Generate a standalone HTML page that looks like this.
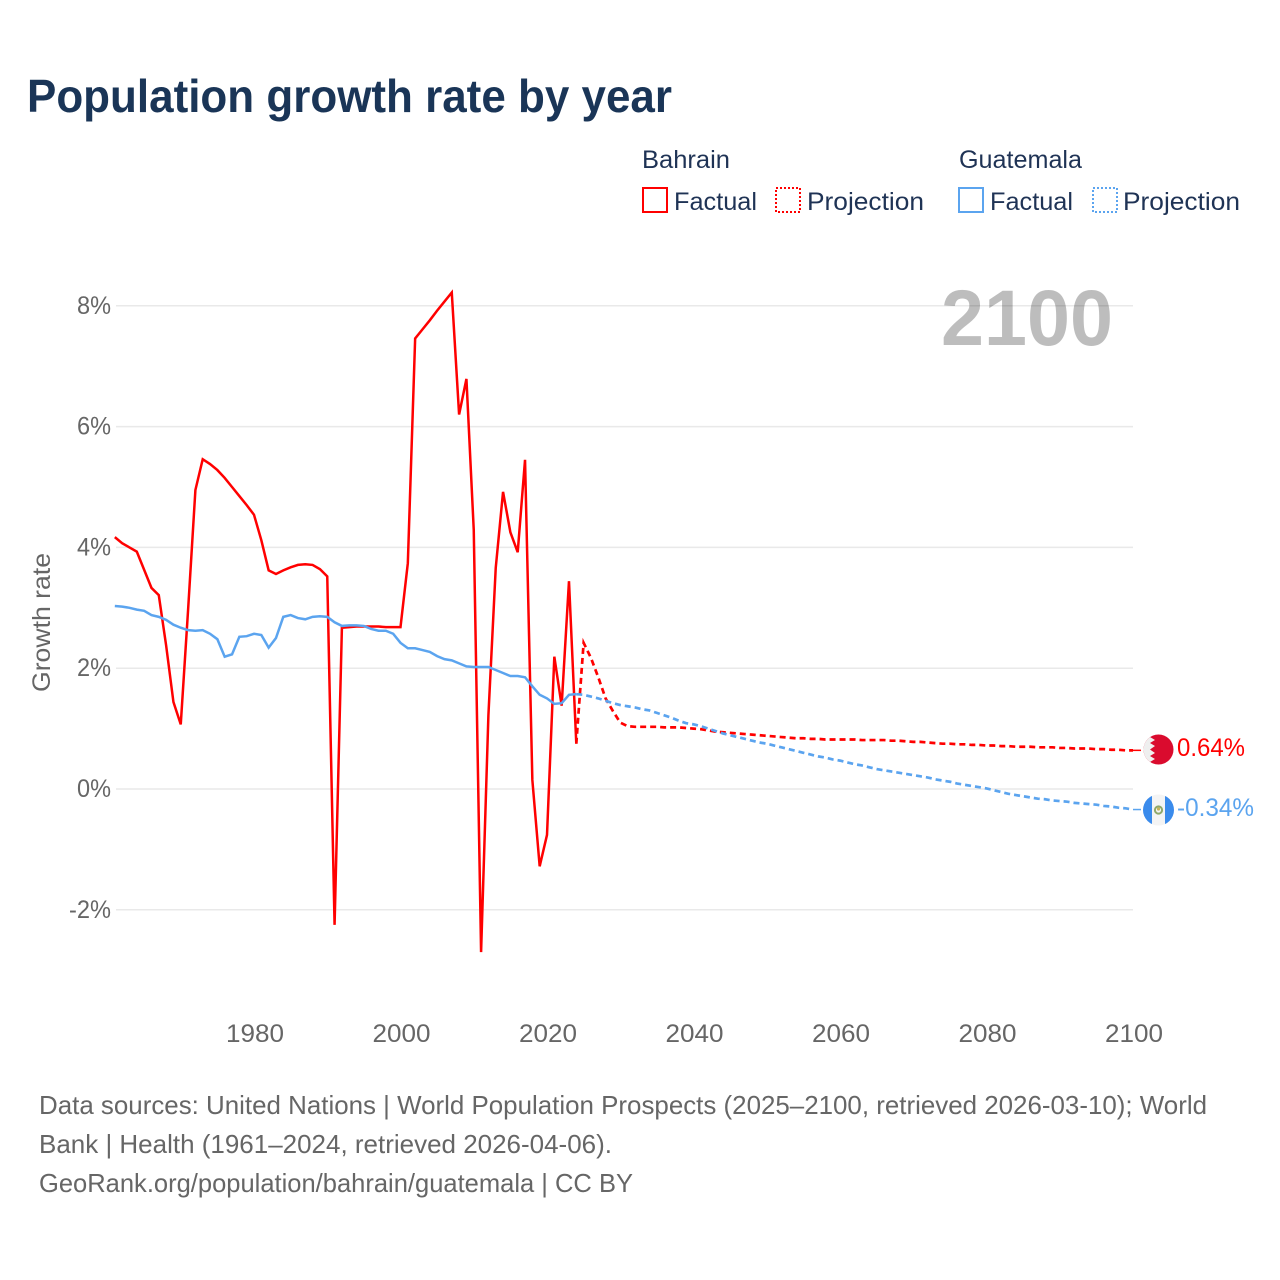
<!DOCTYPE html>
<html>
<head>
<meta charset="utf-8">
<title>Population growth rate by year</title>
<style>
html,body{margin:0;padding:0;background:#fff;width:1280px;height:1280px;overflow:hidden}
svg{display:block}
text{font-family:"Liberation Sans",sans-serif}
</style>
</head>
<body>
<svg id="chart" width="1280" height="1280" viewBox="0 0 1280 1280" xmlns="http://www.w3.org/2000/svg">
<defs>
<clipPath id="clip-bh"><circle cx="1158.5" cy="749.5" r="15"/></clipPath>
<clipPath id="clip-gt"><circle cx="1158.5" cy="810" r="15.5"/></clipPath>
</defs>
<text x="27" y="112" font-size="46" font-weight="700" fill="#1a3557" textLength="645" lengthAdjust="spacingAndGlyphs">Population growth rate by year</text>

<g fill="#1f3355" font-size="25">
<text x="642" y="168" textLength="88" lengthAdjust="spacingAndGlyphs">Bahrain</text>
<g>
<rect x="643" y="188" width="24" height="24" fill="none" stroke="#ff0000" stroke-width="2"/>
<text x="674" y="210" textLength="83" lengthAdjust="spacingAndGlyphs">Factual</text>
</g>
<g>
<rect x="776" y="188" width="24" height="24" fill="none" stroke="#ff0000" stroke-width="2" stroke-dasharray="2 2"/>
<text x="807" y="210" textLength="117" lengthAdjust="spacingAndGlyphs">Projection</text>
</g>
<text x="959" y="168" textLength="123" lengthAdjust="spacingAndGlyphs">Guatemala</text>
<g>
<rect x="959" y="188" width="24" height="24" fill="none" stroke="#5ba4ef" stroke-width="2"/>
<text x="990" y="210" textLength="83" lengthAdjust="spacingAndGlyphs">Factual</text>
</g>
<g>
<rect x="1093" y="188" width="24" height="24" fill="none" stroke="#5ba4ef" stroke-width="2" stroke-dasharray="2 2"/>
<text x="1123" y="210" textLength="117" lengthAdjust="spacingAndGlyphs">Projection</text>
</g>
</g>

<g id="grid"></g>
<text x="941" y="345" font-size="79" font-weight="700" fill="#000000" fill-opacity="0.26" textLength="172" lengthAdjust="spacingAndGlyphs">2100</text>
<g id="y-axis"></g>
<g id="x-axis"></g>
<text transform="translate(50,692) rotate(-90)" font-size="25" fill="#666666" textLength="139" lengthAdjust="spacingAndGlyphs">Growth rate</text>
<g id="series"></g>

<g clip-path="url(#clip-bh)">
<rect x="1143" y="734" width="31" height="31" fill="#da0b2e"/>
<polygon fill="#efefef" points="1143,734 1154,734 1150,737 1155,740 1150,743 1155,746 1150,749.5 1155,753 1150,756 1155,759 1150,762 1154,765 1143,765"/>
</g>
<g clip-path="url(#clip-gt)">
<rect x="1143" y="794" width="31" height="32" fill="#f4f4f4"/>
<rect x="1143" y="794" width="9" height="32" fill="#3a8bec"/>
<rect x="1165" y="794" width="9" height="32" fill="#3a8bec"/>
<circle cx="1158.5" cy="810" r="3.6" fill="none" stroke="#8fa86a" stroke-width="2"/>
<circle cx="1158.5" cy="809" r="1.6" fill="#c9b458"/>
</g>
<text x="1177" y="756" font-size="25" fill="#ff0000" textLength="68" lengthAdjust="spacingAndGlyphs">0.64%</text>
<text x="1177" y="816" font-size="25" fill="#5ba4ef" textLength="77" lengthAdjust="spacingAndGlyphs">-0.34%</text>

<g font-size="26" fill="#666666">
<text x="39" y="1114" textLength="1168" lengthAdjust="spacingAndGlyphs">Data sources: United Nations | World Population Prospects (2025–2100, retrieved 2026-03-10); World</text>
<text x="39" y="1153" textLength="573" lengthAdjust="spacingAndGlyphs">Bank | Health (1961–2024, retrieved 2026-04-06).</text>
<text x="39" y="1192" textLength="594" lengthAdjust="spacingAndGlyphs">GeoRank.org/population/bahrain/guatemala | CC BY</text>
</g>
</svg>
<script>
const NS = 'http://www.w3.org/2000/svg';
const xTicks = [1980, 2000, 2020, 2040, 2060, 2080, 2100];
const xTickLabels = ['1980', '2000', '2020', '2040', '2060', '2080', '2100'];
const yTicks = [8, 6, 4, 2, 0, -2];
const yTickLabels = ['8%', '6%', '4%', '2%', '0%', '-2%'];
const factualStartYear = 1961;
const projectionStartYear = 2024;
const bahrainFactual = [4.17,4.07,4.00,3.93,3.63,3.33,3.21,2.38,1.44,1.07,2.96,4.95,5.46,5.38,5.28,5.15,5.00,4.85,4.70,4.54,4.12,3.62,3.56,3.62,3.67,3.71,3.72,3.71,3.64,3.52,-2.25,2.67,2.68,2.69,2.69,2.69,2.69,2.68,2.68,2.68,3.74,7.46,7.61,7.76,7.92,8.07,8.22,6.20,6.79,4.29,-2.70,1.22,3.66,4.92,4.25,3.92,5.45,0.15,-1.28,-0.76,2.19,1.38,3.44,0.75];
const guatemalaFactual = [3.03,3.02,3.00,2.97,2.95,2.88,2.85,2.80,2.72,2.67,2.63,2.62,2.63,2.57,2.48,2.19,2.23,2.52,2.53,2.57,2.55,2.34,2.50,2.85,2.88,2.83,2.81,2.85,2.86,2.85,2.76,2.70,2.71,2.71,2.70,2.65,2.62,2.62,2.57,2.42,2.33,2.33,2.30,2.27,2.20,2.15,2.13,2.08,2.03,2.02,2.02,2.02,1.97,1.92,1.87,1.87,1.85,1.70,1.56,1.50,1.41,1.42,1.56,1.57];
const bahrainProjection = [0.75,2.42,2.17,1.85,1.50,1.29,1.10,1.04,1.03,1.03,1.03,1.03,1.02,1.02,1.02,1.01,1.00,0.99,0.97,0.95,0.94,0.93,0.92,0.91,0.90,0.89,0.88,0.87,0.86,0.85,0.84,0.84,0.83,0.83,0.82,0.82,0.82,0.82,0.82,0.81,0.81,0.81,0.81,0.80,0.80,0.79,0.78,0.78,0.77,0.76,0.75,0.75,0.74,0.74,0.73,0.73,0.72,0.72,0.71,0.71,0.70,0.70,0.70,0.69,0.69,0.69,0.68,0.68,0.67,0.67,0.67,0.66,0.66,0.65,0.65,0.64,0.64];
const guatemalaProjection = [1.57,1.56,1.53,1.50,1.46,1.42,1.39,1.37,1.35,1.32,1.30,1.26,1.22,1.18,1.13,1.09,1.07,1.04,1.00,0.96,0.92,0.89,0.86,0.83,0.80,0.77,0.75,0.72,0.69,0.66,0.63,0.60,0.57,0.54,0.52,0.49,0.47,0.44,0.41,0.39,0.36,0.33,0.31,0.29,0.27,0.25,0.23,0.21,0.19,0.16,0.14,0.12,0.09,0.07,0.05,0.03,0.01,-0.02,-0.05,-0.08,-0.10,-0.12,-0.14,-0.16,-0.17,-0.19,-0.20,-0.21,-0.23,-0.24,-0.25,-0.26,-0.28,-0.29,-0.31,-0.32,-0.34];

const plotLeft = 116;
const plotRight = 1133;
const markerEndX = 1141;

function xScale(year) { return 254 + (year - 1980) * 7.325; }
function yScale(value) { return 789 - value * 60.4; }

const gridLayer = document.getElementById('grid');
const yAxisLayer = document.getElementById('y-axis');
const xAxisLayer = document.getElementById('x-axis');
const seriesLayer = document.getElementById('series');

yTicks.forEach(function (tick, i) {
  const line = document.createElementNS(NS, 'line');
  
  
  line.setAttribute('x1', plotLeft);
  line.setAttribute('x2', plotRight);
  line.setAttribute('y1', yScale(tick));
  line.setAttribute('y2', yScale(tick));
  line.setAttribute('stroke', '#e9e9e9');
  line.setAttribute('stroke-width', '1.5');
  gridLayer.appendChild(line);

  const label = document.createElementNS(NS, 'text');
  
  
  label.setAttribute('x', 111);
  label.setAttribute('y', yScale(tick) + 8);
  label.setAttribute('text-anchor', 'end');
  label.setAttribute('font-size', '25');
  label.setAttribute('fill', '#666666');
  label.setAttribute('textLength', yTickLabels[i].length === 3 ? 42 : 34);
  label.setAttribute('lengthAdjust', 'spacingAndGlyphs');
  label.textContent = yTickLabels[i];
  yAxisLayer.appendChild(label);
});

xTicks.forEach(function (tick, i) {
  const label = document.createElementNS(NS, 'text');
  
  
  label.setAttribute('x', xScale(tick) + 1);
  label.setAttribute('y', 1042);
  label.setAttribute('text-anchor', 'middle');
  label.setAttribute('font-size', '25');
  label.setAttribute('fill', '#666666');
  label.setAttribute('textLength', 58);
  label.setAttribute('lengthAdjust', 'spacingAndGlyphs');
  label.textContent = xTickLabels[i];
  xAxisLayer.appendChild(label);
});

function linePath(startYear, values) {
  let d = '';
  values.forEach(function (v, i) {
    d += (i === 0 ? 'M' : 'L') + xScale(startYear + i).toFixed(2) + ' ' + yScale(v).toFixed(2);
  });
  return d;
}

function drawFactual(values, color, name) {
  const path = document.createElementNS(NS, 'path');
  
  
  path.setAttribute('d', linePath(factualStartYear, values));
  path.setAttribute('fill', 'none');
  path.setAttribute('stroke', color);
  path.setAttribute('stroke-width', '2.5');
  path.setAttribute('stroke-linejoin', 'miter');
  seriesLayer.appendChild(path);
}

function drawProjection(values, color, name) {
  const path = document.createElementNS(NS, 'path');
  
  
  path.setAttribute('d', linePath(projectionStartYear, values));
  path.setAttribute('fill', 'none');
  path.setAttribute('stroke', color);
  path.setAttribute('stroke-width', '2.7');
  path.setAttribute('stroke-dasharray', '6 4');
  seriesLayer.appendChild(path);

  const lastValue = values[values.length - 1];
  const connector = document.createElementNS(NS, 'line');
  
  
  connector.setAttribute('x1', xScale(2100));
  connector.setAttribute('x2', markerEndX);
  connector.setAttribute('y1', yScale(lastValue));
  connector.setAttribute('y2', yScale(lastValue));
  connector.setAttribute('stroke', color);
  connector.setAttribute('stroke-width', '1.5');
  seriesLayer.appendChild(connector);
}

drawFactual(bahrainFactual, '#ff0000', 'bahrain-factual-line');
drawProjection(bahrainProjection, '#ff0000', 'bahrain-projection-line');
drawFactual(guatemalaFactual, '#5ba4ef', 'guatemala-factual-line');
drawProjection(guatemalaProjection, '#5ba4ef', 'guatemala-projection-line');
</script>
</body>
</html>
